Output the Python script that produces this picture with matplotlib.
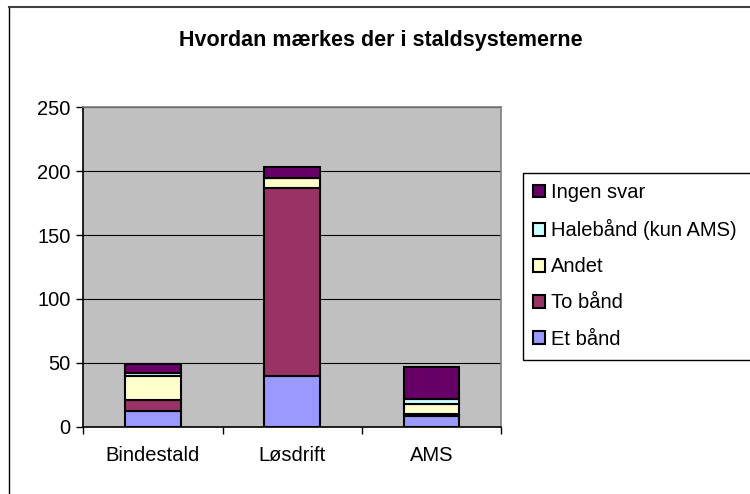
import matplotlib.pyplot as plt
from matplotlib.lines import Line2D
from matplotlib.patches import Rectangle
import numpy as np

plt.rcParams['font.family'] = ['Liberation Sans', 'DejaVu Sans']

categories = ["Bindestald", "Løsdrift", "AMS"]
series = ["Et bånd", "To bånd", "Andet", "Halebånd (kun AMS)", "Ingen svar"]
et_baand = [12, 40, 8]
to_baand = [9, 147, 2]
andet = [19, 8, 8]
halebaand = [2, 0, 4]
ingen_svar = [7, 8, 25]
colors = ["#9999FF", "#993366", "#FFFFCC", "#CCFFFF", "#660066"]

values = [et_baand, to_baand, andet, halebaand, ingen_svar]

W, H = 750, 494
fig = plt.figure(figsize=(7.5, 4.94), dpi=100)
ax = fig.add_axes([0.111, 0.1362, 0.557, 0.6466])
ax.set_facecolor("#C0C0C0")

x = np.arange(len(categories))
bottom = np.zeros(len(categories))
handles = []
for name, vals, col in zip(series, values, colors):
    b = ax.bar(x, vals, width=0.4, bottom=bottom, color=col, edgecolor="black",
               linewidth=1.5, label=name, zorder=3)
    handles.append(b)
    bottom += np.array(vals)

ax.set_xlim(-0.5, 2.5)
ax.set_ylim(0, 250)
ax.set_yticks(np.arange(0, 251, 50))
ax.yaxis.grid(True, color="black", linewidth=0.8, zorder=1)
ax.set_axisbelow(True)

ax.set_xticks(x)
ax.set_xticklabels(categories, fontsize=14.5)
ax.set_xticks([-0.5, 0.5, 1.5, 2.5], minor=True)
ax.tick_params(axis="x", which="major", length=0, pad=14)
ax.tick_params(axis="x", which="minor", length=5, width=1, direction="out")
ax.tick_params(axis="y", labelsize=14.5, length=5, width=1, direction="out", pad=4)

for s in ["left", "bottom"]:
    ax.spines[s].set_color("black")
    ax.spines[s].set_linewidth(1.2)
for s in ["top", "right"]:
    ax.spines[s].set_color("#808080")
    ax.spines[s].set_linewidth(1.2)

fig.text(0.508, 0.918, "Hvordan mærkes der i staldsystemerne", ha="center", va="center",
         fontsize=15.5, fontweight="bold")

# legend box runs past the right edge of the image, so its frame is drawn by hand
fig.add_artist(Rectangle((523 / W, 1 - 360 / H), 260 / W, (360 - 173) / H,
                         transform=fig.transFigure, facecolor="white",
                         edgecolor="black", linewidth=1))
leg = fig.legend(handles[::-1], series[::-1], loc="upper left",
                 bbox_to_anchor=(523 / W, 1 - 173 / H), fontsize=14.5, frameon=False,
                 handlelength=0.6, handleheight=0.6,
                 handletextpad=0.3, labelspacing=0.85, borderpad=0.5, borderaxespad=0)

# chart area frame (left and top edges only, the rest is cut off)
fig.add_artist(Line2D([8.5 / W, 8.5 / W], [0, 1 - 7 / H], color="black", linewidth=1))
fig.add_artist(Line2D([8.5 / W, 1], [1 - 7 / H, 1 - 7 / H], color="#404040", linewidth=1.5))

fig.savefig("out.png", dpi=100)
